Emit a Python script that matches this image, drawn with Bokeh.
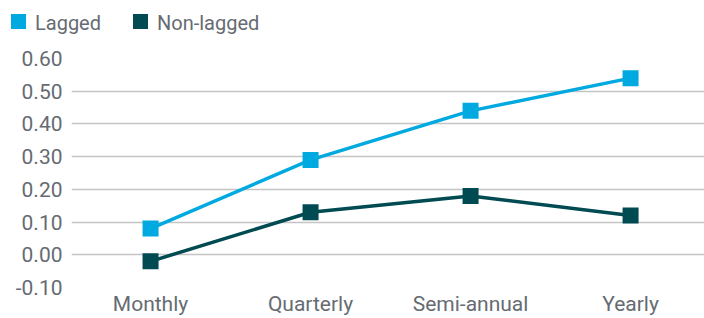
from bokeh.plotting import figure
from bokeh.layouts import column
from bokeh.models import FixedTicker, NumeralTickFormatter, Range1d, ColumnDataSource, Div
from bokeh.embed import file_html
from bokeh.resources import INLINE

categories = ["Monthly", "Quarterly", "Semi-annual", "Yearly"]
lagged = [0.08, 0.29, 0.44, 0.54]
non_lagged = [-0.02, 0.13, 0.18, 0.12]
y_ticks = [-0.1, 0.0, 0.1, 0.2, 0.3, 0.4, 0.5, 0.6]
series_names = ["Lagged", "Non-lagged"]

LAG_COLOR = "#00a9e0"
NON_COLOR = "#004a52"
TEXT_COLOR = "#666b72"
FONT = "Roboto"

xs = list(range(len(categories)))
src = ColumnDataSource(dict(x=xs, lagged=lagged, non=non_lagged))

# ---- legend strip (HTML) ----
def item(left, color, label):
    return (f'<span style="position:absolute;left:{left}px;top:14px;width:15px;height:15px;'
            f'background:{color};"></span>'
            f'<span style="position:absolute;left:{left + 24}px;top:13px;line-height:20px;'
            f'white-space:nowrap;">{label}</span>')

legend_html = (f'<div style="position:relative;width:704px;height:46px;font-family:{FONT};'
               f'font-size:20px;color:{TEXT_COLOR};">'
               + item(11, LAG_COLOR, series_names[0])
               + item(133, NON_COLOR, series_names[1])
               + '</div>')
leg = Div(text=legend_html, width=704, height=46, margin=0)

# ---- main chart ----
p = figure(width=704, height=272, output_backend="svg", toolbar_location=None,
           x_range=Range1d(-0.494, 3.462), y_range=Range1d(-0.1, 0.6),
           min_border_left=71, min_border_right=0, min_border_top=12, min_border_bottom=30)
p.outline_line_color = None

p.line("x", "lagged", source=src, line_color=LAG_COLOR, line_width=3.5)
p.scatter("x", "lagged", source=src, marker="square", size=16, fill_color=LAG_COLOR, line_color=None)
p.line("x", "non", source=src, line_color=NON_COLOR, line_width=3.5)
p.scatter("x", "non", source=src, marker="square", size=16, fill_color=NON_COLOR, line_color=None)

p.xaxis.ticker = FixedTicker(ticks=xs)
p.xaxis.major_label_overrides = {i: c for i, c in enumerate(categories)}
p.yaxis.ticker = FixedTicker(ticks=y_ticks)
p.yaxis.formatter = NumeralTickFormatter(format="0.00")

for ax in (p.xaxis, p.yaxis):
    ax.axis_line_color = None
    ax.major_tick_line_color = None
    ax.minor_tick_line_color = None
    ax.major_tick_out = 0
    ax.major_tick_in = 0
    ax.major_label_text_font = FONT
    ax.major_label_text_color = TEXT_COLOR
p.xaxis.major_label_text_font_size = "21px"
p.yaxis.major_label_text_font_size = "21px"
p.xaxis.major_label_standoff = 4
p.yaxis.major_label_standoff = 9

p.xgrid.grid_line_color = None
p.ygrid.grid_line_color = "#c4c4c4"
p.ygrid.grid_line_width = 1.5

layout = column(leg, p, spacing=0)
open("out.html", "w").write(file_html(layout, INLINE))
